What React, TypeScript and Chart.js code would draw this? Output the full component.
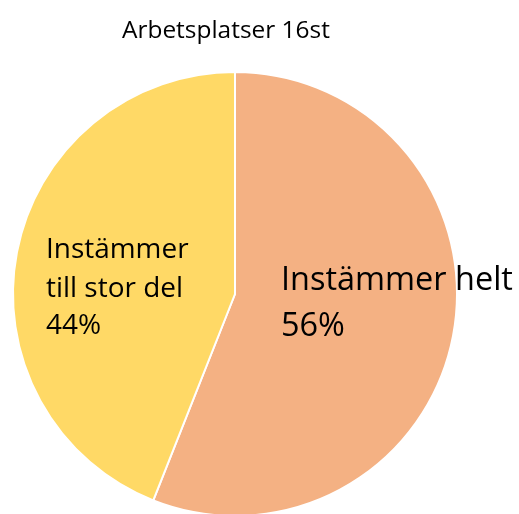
import React, { useEffect, useRef } from "react";
import { Chart, registerables } from "chart.js";

Chart.register(...registerables);

const title = "Arbetsplatser 16st";
const categories = ["Instämmer helt", "Instämmer till stor del"];
const values = [56, 44];
const colors = ["#F4B183", "#FFD966"];

const FONT = "'Open Sans', sans-serif";

function fitFont(ctx: CanvasRenderingContext2D, text: string, targetWidth: number) {
  ctx.font = `100px ${FONT}`;
  const w = ctx.measureText(text).width;
  return (100 * targetWidth) / w;
}

const labelPlugin = {
  id: "labelPlugin",
  afterDraw(chart: any) {
    const ctx: CanvasRenderingContext2D = chart.ctx;
    ctx.save();
    ctx.fillStyle = "#000";
    ctx.textAlign = "left";
    ctx.textBaseline = "alphabetic";
    let s = fitFont(ctx, title, 208);
    ctx.font = `${s}px ${FONT}`;
    ctx.fillText(title, 122, 38);
    const total = values.reduce((a, b) => a + b, 0);
    const p0 = Math.round((values[0] / total) * 100) + "%";
    const p1 = Math.round((values[1] / total) * 100) + "%";
    s = fitFont(ctx, categories[0], 232);
    ctx.font = `${s}px ${FONT}`;
    ctx.fillText(categories[0], 281, 290);
    ctx.fillText(p0, 281, 336);
    s = fitFont(ctx, "till stor del", 137);
    ctx.font = `${s}px ${FONT}`;
    ctx.fillText("Instämmer", 46, 258);
    ctx.fillText("till stor del", 46, 297);
    ctx.fillText(p1, 46, 334);
    ctx.restore();
  },
};

export default function App() {
  const ref = useRef<HTMLCanvasElement>(null);
  useEffect(() => {
    if (!ref.current) return;
    const chart = new Chart(ref.current, {
      type: "pie",
      data: {
        labels: categories,
        datasets: [
          {
            data: values,
            backgroundColor: colors,
            borderColor: "#ffffff",
            borderWidth: 2,
          },
        ],
      },
      options: {
        responsive: false,
        animation: false,
        layout: { padding: { left: 12, right: 61, top: 71, bottom: 23 } },
        plugins: {
          legend: { display: false },
          tooltip: { enabled: false },
          title: { display: false },
        },
      },
      plugins: [labelPlugin],
    });
    return () => chart.destroy();
  }, []);
  return (
    <div style={{ position: "fixed", left: 0, top: 0, width: 519, height: 514, overflow: "hidden", background: "#fff" }}>
      <canvas ref={ref} width={519} height={540} style={{ display: "block", width: 519, height: 540 }} />
    </div>
  );
}
